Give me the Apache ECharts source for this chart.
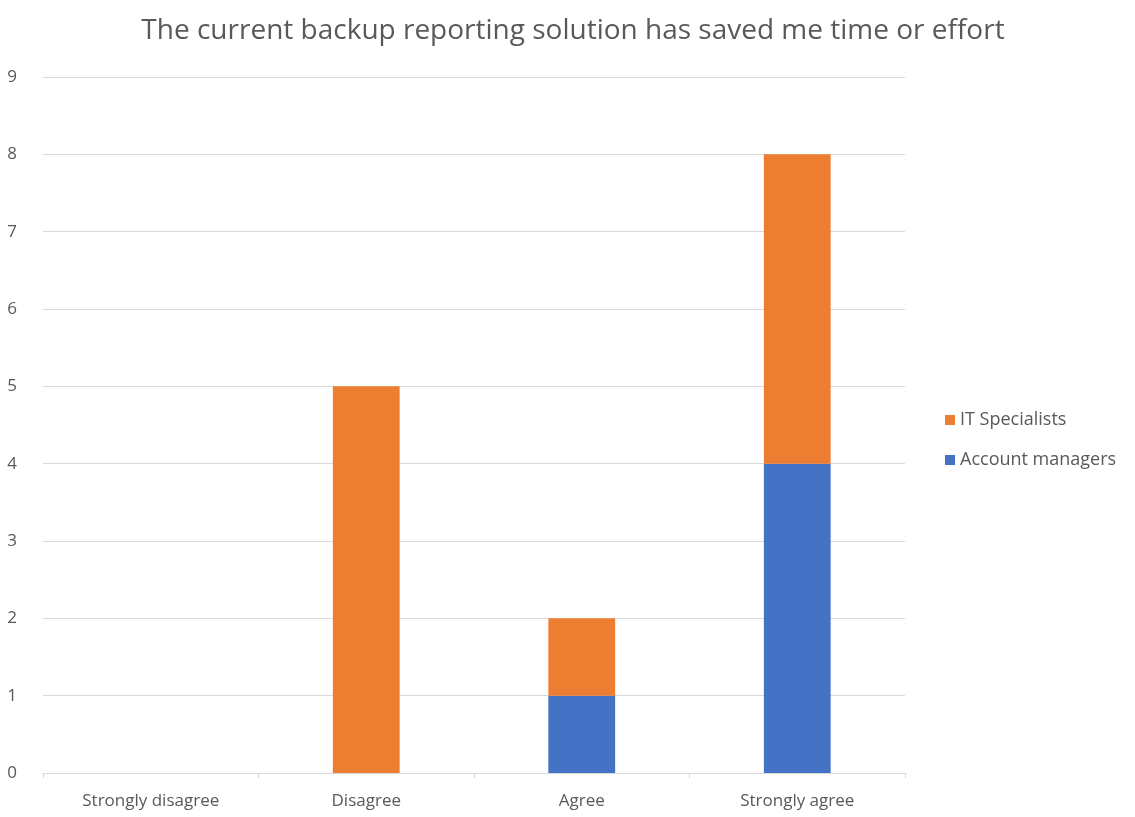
<!DOCTYPE html>
<html>
<head>
<meta charset="utf-8">
<script src="https://cdn.jsdelivr.net/npm/echarts@6/dist/echarts.min.js"></script>
<style>
  html, body { margin: 0; padding: 0; background: #fff; }
  #chart { width: 1135px; height: 817px; }
</style>
</head>
<body>
<div id="chart"></div>
<script>
// Survey answers grouped by agreement level
const categories = ['Strongly disagree', 'Disagree', 'Agree', 'Strongly agree'];
const accountManagers = [0, 0, 1, 4];
const itSpecialists = [0, 5, 1, 4];
const yTicks = { min: 0, max: 9, interval: 1 };

const textColor = '#595959';
const fontFamily = '"Open Sans", "Liberation Sans", sans-serif';

const chart = echarts.init(document.getElementById('chart'));
chart.setOption({
  animation: false,
  title: {
    text: 'The current backup reporting solution has saved me time or effort',
    left: 568,
    textAlign: 'center',
    top: 12,
    textStyle: { color: textColor, fontSize: 28, fontWeight: 'normal', fontFamily: fontFamily }
  },
  legend: {
    orient: 'vertical',
    left: 940,
    top: 406,
    itemWidth: 10,
    itemHeight: 10,
    itemGap: 22,
    icon: 'rect',
    data: ['IT Specialists', 'Account managers'],
    textStyle: { color: textColor, fontSize: 18, fontFamily: fontFamily }
  },
  grid: { left: 43, right: 230, top: 77, bottom: 44, containLabel: false },
  xAxis: {
    type: 'category',
    data: categories,
    axisLine: { lineStyle: { color: '#d9d9d9' } },
    axisTick: { show: true, length: 5, lineStyle: { color: '#d9d9d9' } },
    axisLabel: { color: textColor, fontSize: 17, margin: 20, fontFamily: fontFamily }
  },
  yAxis: {
    type: 'value',
    min: yTicks.min,
    max: yTicks.max,
    interval: yTicks.interval,
    axisLine: { show: false },
    axisTick: { show: false },
    axisLabel: { color: textColor, fontSize: 17, margin: 26, fontFamily: fontFamily },
    splitLine: { lineStyle: { color: '#d9d9d9' } }
  },
  series: [
    {
      name: 'Account managers',
      type: 'bar',
      stack: 'total',
      data: accountManagers,
      barWidth: '31%',
      itemStyle: { color: '#4472C4' }
    },
    {
      name: 'IT Specialists',
      type: 'bar',
      stack: 'total',
      data: itSpecialists,
      barWidth: '31%',
      itemStyle: { color: '#ED7D31' }
    }
  ]
});
</script>
</body>
</html>
